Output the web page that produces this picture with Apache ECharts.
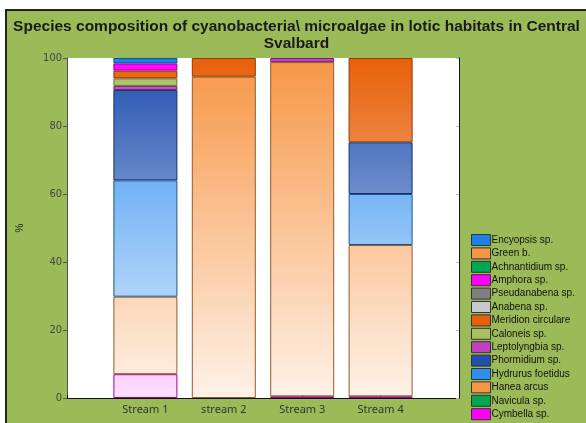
<!DOCTYPE html>
<html>
<head>
<meta charset="utf-8">
<script src="https://cdn.jsdelivr.net/npm/echarts@6/dist/echarts.min.js"></script>
<style>
  html, body { margin: 0; padding: 0; background: #fff; width: 586px; height: 423px; overflow: hidden; }
  #frame {
    position: absolute; left: 5px; top: 9px; right: 0; bottom: 0;
    border-left: 2px solid #222; border-top: 2px solid #222;
    background: #9BBB59;
  }
  #chart { width: 579px; height: 412px; }
</style>
</head>
<body>
<div id="frame"><div id="chart"></div></div>
<script>
// x categories (empty slots at both ends keep the bars spaced like the original)
const streams = ['Stream 1', 'stream 2', 'Stream 3', 'Stream 4']

// species, bottom of the stack first
const cymbella     = [7.0, 0, 0.5, 0.5]
const navicula     = [0, 0, 0, 0]
const haneaArcus   = [22.8, 94.5, 98.3, 44.5]
const hydrurus     = [34.2, 0, 0, 15.0]
const phormidium   = [26.6, 0, 0, 15.2]
const leptolyngbia = [1.2, 0, 1.2, 0]
const caloneis     = [2.2, 0, 0, 0]
const meridion     = [2.3, 5.5, 0, 24.8]
const anabena      = [0, 0, 0, 0]
const pseudanabena = [0, 0, 0, 0]
const amphora      = [2.1, 0, 0, 0]
const achnantidium = [0, 0, 0, 0]
const greenB       = [0, 0, 0, 0]
const encyopsis    = [1.6, 0, 0, 0]

const species = [
  { name: 'Cymbella sp.', data: cymbella, color: '#FF00FF' },
  { name: 'Navicula sp.', data: navicula, color: '#00A651' },
  { name: 'Hanea arcus', data: haneaArcus, color: '#F79646' },
  { name: 'Hydrurus foetidus', data: hydrurus, color: '#2F8FF0' },
  { name: 'Phormidium sp.', data: phormidium, color: '#1F4FB0' },
  { name: 'Leptolyngbia sp.', data: leptolyngbia, color: '#C040C0' },
  { name: 'Caloneis sp.', data: caloneis, color: '#A8C060' },
  { name: 'Meridion circulare', data: meridion, color: '#E8600A' },
  { name: 'Anabena sp.', data: anabena, color: '#C8C8D0' },
  { name: 'Pseudanabena sp.', data: pseudanabena, color: '#808080' },
  { name: 'Amphora sp.', data: amphora, color: '#FF00FF' },
  { name: 'Achnantidium sp.', data: achnantidium, color: '#00A651' },
  { name: 'Green b.', data: greenB, color: '#F79646' },
  { name: 'Encyopsis sp.', data: encyopsis, color: '#1E7FE8' }
]

// mix a hex colour with white (t>0) or black (t<0)
function mix(hex, t) {
  const n = parseInt(hex.slice(1), 16)
  const c = [(n >> 16) & 255, (n >> 8) & 255, n & 255]
  const target = t >= 0 ? 255 : 0
  const k = Math.abs(t)
  return 'rgb(' + c.map(v => Math.round(v + (target - v) * k)).join(',') + ')'
}
// colour fades toward white lower down the plot, like the original gradient fill
const shade = (hex, v) => mix(hex, (1 - v / 100) * 0.88)

const cum = streams.map(() => 0)
const series = species.map(sp => {
  const items = sp.data.map((v, i) => {
    const bottom = cum[i]
    const top = bottom + v
    cum[i] = top
    if (!v) return { value: 0, itemStyle: { borderWidth: 0, opacity: 0 } }
    return {
      value: v,
      itemStyle: {
        color: new echarts.graphic.LinearGradient(0, 0, 0, 1, [
          { offset: 0, color: shade(sp.color, top) },
          { offset: 1, color: shade(sp.color, bottom) }
        ])
      }
    }
  })
  return {
    name: sp.name,
    type: 'bar',
    stack: 'total',
    barWidth: 64,
    itemStyle: { color: sp.color, borderColor: mix(sp.color, -0.4), borderWidth: 1 },
    emphasis: { disabled: true },
    data: ['-', ...items, '-']
  }
})

const chart = echarts.init(document.getElementById('chart'))
chart.setOption({
  backgroundColor: '#9BBB59',
  animation: false,
  title: {
    text: 'Species composition of cyanobacteria\\ microalgae in lotic habitats in Central\nSvalbard',
    left: 'center',
    top: 2,
    textStyle: { fontFamily: 'Liberation Sans, Arial', fontSize: 15.5, fontWeight: 'bold', color: '#1a1a1a', lineHeight: 17, align: 'center' }
  },
  legend: {
    data: species.map(s => s.name).reverse(),
    orient: 'vertical',
    left: 459,
    top: 218,
    height: 400,
    itemWidth: 19,
    itemHeight: 11,
    itemGap: 1.4,
    icon: 'rect',
    selectedMode: false,
    itemStyle: { borderColor: '#333', borderWidth: 1 },
    textStyle: { fontFamily: 'Liberation Sans, Arial', fontSize: 10, color: '#111', lineHeight: 11, padding: [0, 0, 0, -4] }
  },
  grid: {
    left: 56, right: 127, top: 47, bottom: 25,
    show: true, backgroundColor: '#fff', borderWidth: 0
  },
  xAxis: [{
    type: 'category',
    data: ['', ...streams, ''],
    boundaryGap: false,
    axisLine: { lineStyle: { color: '#111', width: 1 } },
    axisTick: { inside: true, length: 3, lineStyle: { color: '#111' } },
    axisLabel: { fontFamily: 'Noto Sans', fontSize: 11, color: '#333', margin: 6 },
    splitLine: { show: false }
  }, {
    type: 'category',
    position: 'top',
    data: ['', ...streams, ''],
    boundaryGap: false,
    axisLine: { show: false },
    axisTick: { length: 3, lineStyle: { color: '#111' } },
    axisLabel: { show: false }
  }],
  yAxis: [{
    type: 'value',
    min: 0, max: 100, interval: 20,
    name: '%',
    nameLocation: 'middle',
    nameGap: 42,
    nameRotate: 90,
    nameTextStyle: { fontFamily: 'Liberation Sans, Arial', fontSize: 10, color: '#222' },
    axisLine: { show: true, lineStyle: { color: '#555' } },
    axisTick: { show: true, length: 4, lineStyle: { color: '#555' } },
    axisLabel: { fontFamily: 'DejaVu Sans Condensed, DejaVu Sans', fontSize: 11, color: '#444', margin: 5 },
    splitLine: { show: false }
  }, {
    type: 'value',
    position: 'right',
    min: 0, max: 100, interval: 20,
    axisLine: { show: true, lineStyle: { color: '#111' } },
    axisTick: { show: true, inside: true, length: 3, lineStyle: { color: '#bbb' } },
    axisLabel: { show: false },
    splitLine: { show: false }
  }],
  series: series
})
</script>
</body>
</html>
